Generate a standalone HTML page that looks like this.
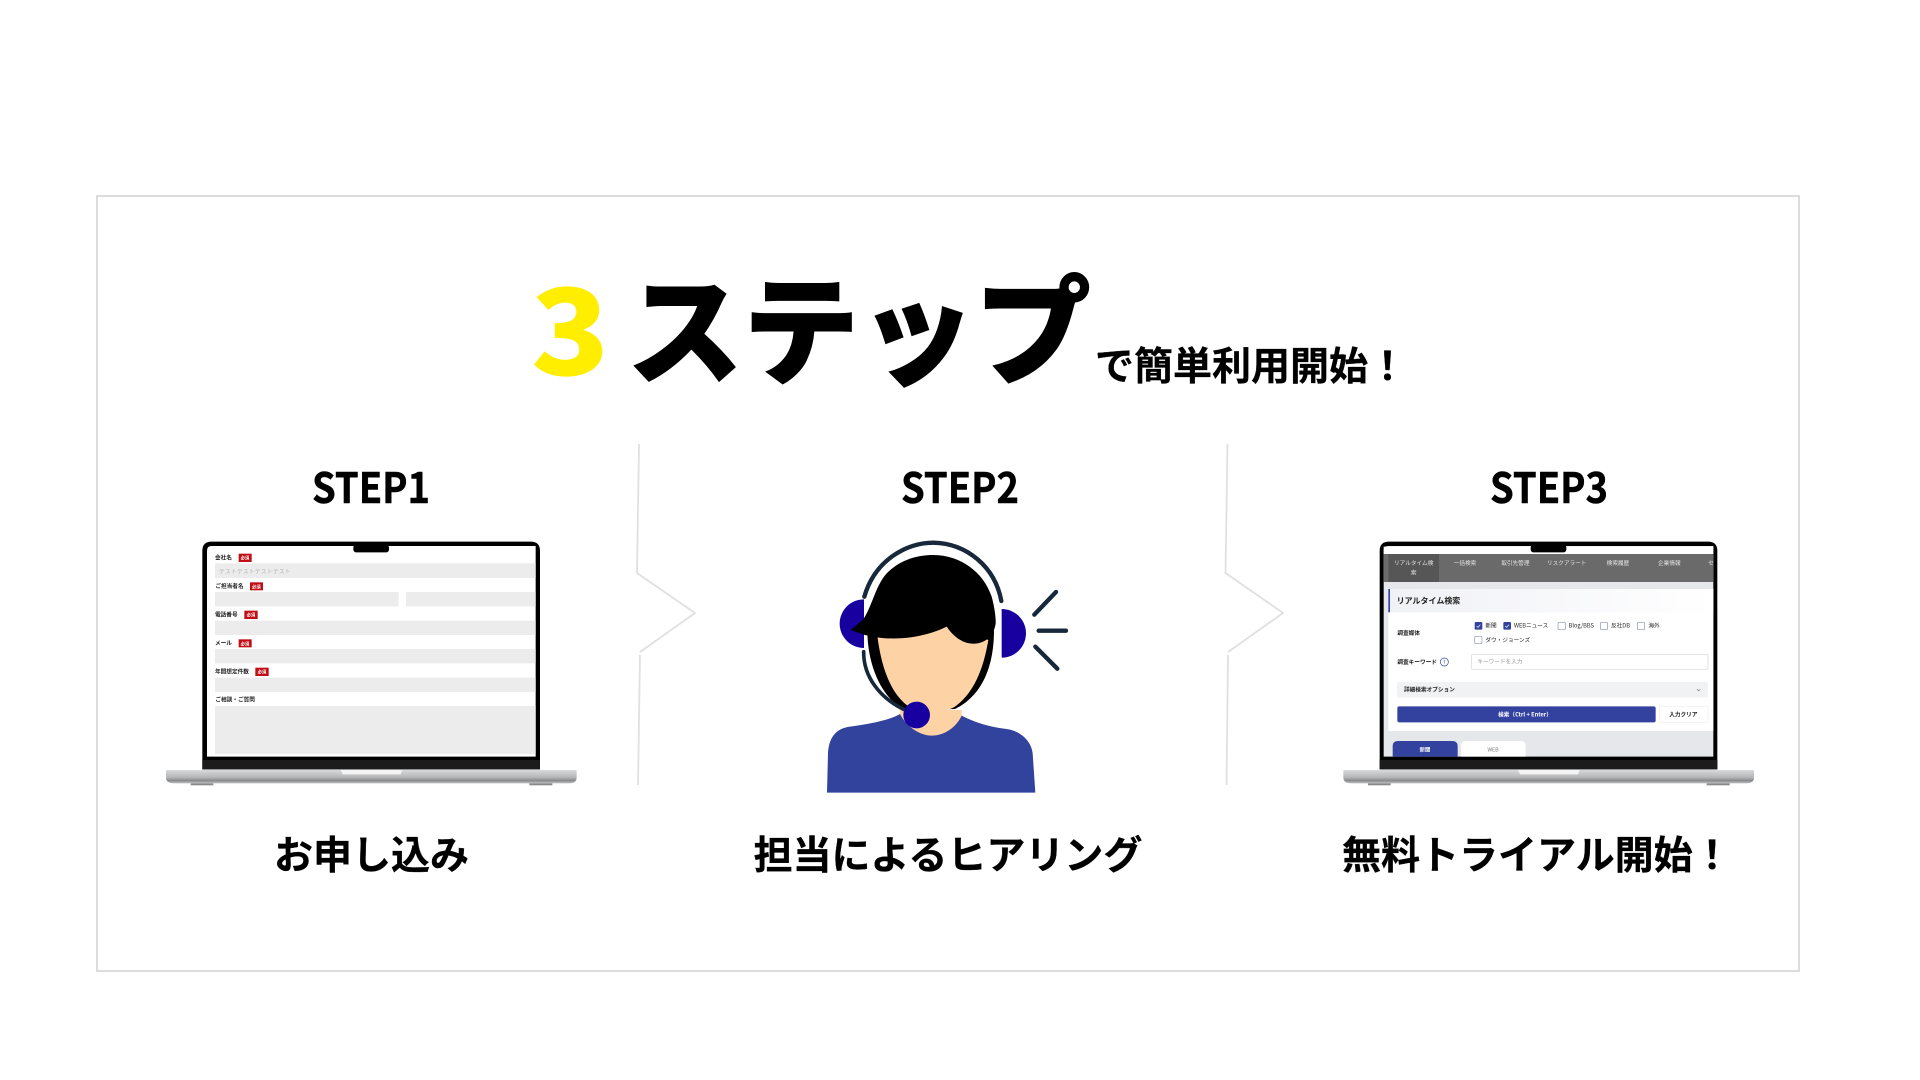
<!DOCTYPE html>
<html lang="ja"><head><meta charset="utf-8"><title>3ステップ</title>
<style>
html,body{margin:0;padding:0;background:#fff;width:1920px;height:1080px;overflow:hidden}
svg{display:block}
text{font-family:"Liberation Sans","Noto Sans CJK JP",sans-serif}
.n{font-family:"Noto Sans CJK JP",sans-serif}
</style></head><body>
<svg width="1920" height="1080" viewBox="0 0 1920 1080" xmlns="http://www.w3.org/2000/svg">
<defs>
<linearGradient id="base" x1="0" y1="0" x2="0" y2="1"><stop offset="0" stop-color="#d8d9db"/><stop offset=".55" stop-color="#b5b6b8"/><stop offset=".8" stop-color="#88898b"/><stop offset="1" stop-color="#c3c4c6"/></linearGradient>
<linearGradient id="hd" x1="0" y1="0" x2="1" y2="0"><stop offset="0" stop-color="#f0f1f6"/><stop offset="1" stop-color="#ffffff"/></linearGradient>
<filter id="b" x="-5%" y="-5%" width="110%" height="110%"><feGaussianBlur stdDeviation="0.8"/></filter>
<g id="laptop">
<path d="M48 720H1280V742C1280 754 1272 760 1258 760H72C56 760 48 754 48 742Z" fill="url(#base)"/>
<rect x="122" y="760" width="68" height="6" fill="#8a8a8c"/><rect x="1138" y="760" width="69" height="6" fill="#8a8a8c"/>
<path d="M157 63Q157 35 185 35H1142Q1170 35 1170 63V718H157Z" fill="#000"/>
<rect x="157" y="690" width="1013" height="28" fill="#1a1a1a"/>
<path d="M572 720H757L752 733H578Z" fill="#f4f4f4"/>
</g>
</defs>

<rect x="97" y="196" width="1702" height="775" fill="#fff" stroke="#dcdcdc" stroke-width="2"/>

<text class="n" transform="translate(531,375) scale(1.1,1)" font-size="117" font-weight="900" fill="#ffee00">3</text>
<text class="n" transform="translate(627,375) scale(1,1.02)" font-size="116" font-weight="900" fill="#000" stroke="#000" stroke-width="1">ステップ</text>
<text class="n" x="1095" y="380" font-size="39" font-weight="700" fill="#000" stroke="#000" stroke-width=".3">で簡単利用開始！</text>

<g font-size="42" font-weight="700" fill="#000" stroke="#000" stroke-width=".5">
<text class="n" x="312" y="503" textLength="118" lengthAdjust="spacingAndGlyphs">STEP1</text>
<text class="n" x="901" y="503" textLength="118" lengthAdjust="spacingAndGlyphs">STEP2</text>
<text class="n" x="1490" y="503" textLength="118" lengthAdjust="spacingAndGlyphs">STEP3</text>
</g>

<g fill="none" stroke="#e0e0e0" stroke-width="1.8">
<path d="M639 444L637 573L695 613L640 652"/><path d="M640 655L638 785"/>
<path d="M1227.500 444L1225.500 573L1283 613L1228 652"/><path d="M1228 655L1226.500 785"/>
</g>

<g font-size="39" font-weight="700" fill="#000" stroke="#000" stroke-width=".3">
<text class="n" x="274" y="869">お申し込み</text>
<text class="n" x="753.500" y="869">担当によるヒアリング</text>
<text class="n" x="1342" y="869">無料トライアル開始！</text>
</g>

<!-- laptop 1 -->
<g transform="translate(150,530) scale(.33333)" filter="url(#b)">
<use href="#laptop"/>
<path d="M171 62Q171 48 185 48H1157V680H171Z" fill="#fff"/>
<rect x="610" y="45" width="107" height="22" rx="8" fill="#000"/>
<g fill="#ececec">
<rect x="195" y="100" width="962" height="44"/>
<rect x="195" y="186" width="551" height="43"/><rect x="768" y="186" width="389" height="43"/>
<rect x="195" y="272" width="962" height="43"/>
<rect x="195" y="357" width="962" height="43"/>
<rect x="195" y="443" width="962" height="43"/>
<rect x="195" y="528" width="962" height="144"/>
</g>
<g fill="#c00f14">
<rect x="266" y="71" width="39" height="25"/><rect x="300" y="157" width="39" height="24"/>
<rect x="283" y="242" width="40" height="25"/><rect x="266" y="328" width="39" height="24"/>
<rect x="316" y="413" width="40" height="25"/>
</g>
<g font-size="13" fill="#fff" font-weight="700" text-anchor="middle">
<text class="n" x="285" y="89">必須</text><text class="n" x="319" y="175">必須</text>
<text class="n" x="303" y="260">必須</text><text class="n" x="285" y="346">必須</text>
<text class="n" x="336" y="431">必須</text>
</g>
<g font-size="17" fill="#222" font-weight="700">
<text class="n" x="195" y="88">会社名</text>
<text class="n" x="196" y="174">ご担当者名</text>
<text class="n" x="195" y="260">電話番号</text>
<text class="n" x="195" y="345">メール</text>
<text class="n" x="195" y="431">年間想定件数</text>
<text class="n" x="196" y="515">ご相談・ご質問</text>
</g>
<text class="n" x="207" y="130" font-size="17" fill="#b0b0b0" letter-spacing="1">テストテストテストテスト</text>
</g>

<!-- headset person -->
<g transform="translate(820,530) scale(.33333)">
<path d="M240 540H425V620H240Z" fill="#fdd3a5"/>
<path d="M21 788L24 670C27 620 50 595 90 590C150 582 210 570 240 552C260 590 300 617 335 617C375 617 410 590 425 557C460 575 500 590 560 597C610 605 635 640 638 670L646 788Z" fill="#32439e"/>
<path d="M132 208A73 73 0 0 0 132 354Z" fill="#1800a0"/>
<path d="M545 237A73 73 0 0 1 545 383Z" fill="#1800a0"/>
<path d="M142 300C142 400 180 500 255 542L405 537C480 500 522 420 522 300Z" fill="#000"/>
<path d="M172 318C185 420 215 490 260 525C290 550 375 550 405 530C460 490 490 420 505 330L380 280Z" fill="#fdd3a5"/>
<path d="M92 300L130 268C160 220 165 170 200 130C240 90 290 75 340 75C420 75 490 125 515 200C522 225 528 260 527 280C522 315 500 338 465 341C430 343 400 320 380 290C320 320 240 332 170 322L135 315Z" fill="#000"/>
<g fill="none" stroke="#17283a" stroke-linecap="round">
<path d="M133 200C165 90 260 38 340 38C440 40 525 110 544 213" stroke-width="13"/>
<path d="M131 365C130 440 180 505 255 540" stroke-width="11"/>
<path d="M643 254L708 186M656 302H738M646 350L712 416" stroke-width="13"/>
</g>
<circle cx="290" cy="555" r="40" fill="#1800a0"/>
</g>

<!-- laptop 3 -->
<g transform="translate(1340,530) scale(.33333)" filter="url(#b)">
<use href="#laptop" x="-38"/>
<path d="M131 62Q131 48 145 48H1120V680H131Z" fill="#e6e7eb"/>
<rect x="131" y="50" width="989" height="22" fill="#fff"/>
<rect x="131" y="72" width="989" height="84" fill="#6b6b6b"/>
<rect x="145" y="72" width="152" height="84" fill="#575757"/>
<rect x="572" y="45" width="107" height="22" rx="8" fill="#000"/>
<g font-size="17" fill="#e4e4e4" text-anchor="middle">
<text class="n" x="221" y="105">リアルタイム検</text><text class="n" x="221" y="133">索</text>
<text class="n" x="375" y="105">一括検索</text><text class="n" x="526" y="105">取引先管理</text>
<text class="n" x="680" y="105">リスクアラート</text><text class="n" x="834" y="105">検索履歴</text>
<text class="n" x="988" y="105">企業情報</text><text class="n" x="1113" y="105">セ</text>
</g>
<rect x="145" y="177" width="975" height="426" rx="4" fill="#fff"/>
<rect x="145" y="177" width="975" height="70" fill="url(#hd)"/>
<rect x="145" y="177" width="5" height="70" fill="#32439e"/>
<text class="n" x="170" y="220" font-size="24" font-weight="700" fill="#222">リアルタイム検索</text>
<rect x="171" y="456" width="933" height="47" rx="6" fill="#f1f2f4"/>
<rect x="395" y="373" width="709" height="45" rx="4" fill="#fff" stroke="#d4d4d8" stroke-width="2"/>
<g font-size="17" fill="#222">
<text class="n" x="172" y="315" font-weight="700">調査媒体</text>
<text class="n" x="436" y="293">新聞</text><text class="n" x="522" y="293">WEBニュース</text>
<text class="n" x="686" y="293">Blog/BBS</text><text class="n" x="813" y="293">反社DB</text>
<text class="n" x="925" y="293">海外</text><text class="n" x="436" y="336">ダウ・ジョーンズ</text>
<text class="n" x="172" y="402" font-weight="700">調査キーワード</text>
<text class="n" x="192" y="484" font-weight="700">詳細検索オプション</text>
<text class="n" x="1030" y="560" font-weight="700" text-anchor="middle">入力クリア</text>
</g>
<g>
<rect x="404" y="276" width="23" height="23" rx="4" fill="#32439e"/><rect x="490" y="276" width="23" height="23" rx="4" fill="#32439e"/>
<path d="M410 288l4 4l7-8M496 288l4 4l7-8" fill="none" stroke="#fff" stroke-width="2"/>
<g fill="#fff" stroke="#8d93b5" stroke-width="2">
<rect x="654" y="277" width="22" height="22" rx="4"/><rect x="781" y="277" width="22" height="22" rx="4"/>
<rect x="892" y="277" width="22" height="22" rx="4"/><rect x="404" y="319" width="22" height="22" rx="4"/>
</g>
</g>
<circle cx="313" cy="396" r="12" fill="none" stroke="#32439e" stroke-width="2"/>
<text class="n" x="313" y="402" font-size="15" fill="#32439e" text-anchor="middle">?</text>
<text class="n" x="412" y="400" font-size="17" fill="#999">キーワードを入力</text>
<path d="M1071 478l5 4l5-4" fill="none" stroke="#777" stroke-width="2"/>
<rect x="172" y="529" width="775" height="48" rx="6" fill="#32439e"/>
<text class="n" x="555" y="560" font-size="17" font-weight="700" fill="#fff" text-anchor="middle">検索（Ctrl + Enter）</text>
<rect x="958" y="529" width="146" height="48" rx="4" fill="none" stroke="#eee" stroke-width="2"/>
<path d="M158 680V649Q158 633 174 633H337Q353 633 353 649V680Z" fill="#32439e"/>
<path d="M363 680V649Q363 633 379 633H541Q557 633 557 649V680Z" fill="#fff"/>
<text class="n" x="255" y="664" font-size="16" font-weight="700" fill="#fff" text-anchor="middle">新聞</text>
<text class="n" x="459" y="664" font-size="16" fill="#777" text-anchor="middle">WEB</text>
</g>
</svg>
</body></html>
